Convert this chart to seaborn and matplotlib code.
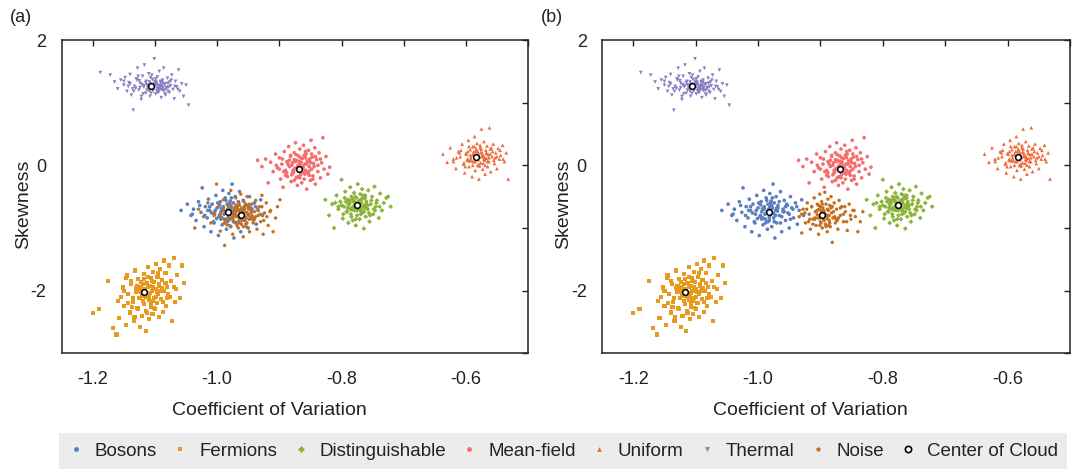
import numpy as np
import pandas as pd
import seaborn as sns
import matplotlib.pyplot as plt
from matplotlib.lines import Line2D
from matplotlib.ticker import MultipleLocator

# cloud points (panels share all clouds except Noise)
bosons_x = [-1.058, -1.048, -1.042, -1.038, -1.034, -1.030, -1.026, -1.024, -1.021, -1.019, -1.016, -1.014,
            -1.012, -1.010, -1.008, -1.006, -1.004, -1.002, -1.000, -0.998, -0.997, -0.995, -0.994, -0.992,
            -0.991, -0.990, -0.988, -0.987, -0.986, -0.985, -0.984, -0.983, -0.982, -0.981, -0.980, -0.979,
            -0.978, -0.977, -0.976, -0.975, -0.974, -0.973, -0.972, -0.971, -0.970, -0.968, -0.966, -0.964,
            -0.962, -0.960, -0.958, -0.956, -0.954, -0.952, -0.950, -0.948, -0.946, -0.943, -0.940, -0.937,
            -0.934, -0.930, -0.927, -0.985, -0.989, -0.979, -0.993, -0.975, -0.996, -0.969, -1.003, -0.981,
            -1.020, -1.012, -1.005, -0.999, -0.994, -0.990, -0.986, -0.982, -0.978, -0.974, -0.970, -0.966,
            -0.962, -0.958, -0.953, -0.948, -0.944, -1.028, -1.015, -1.001, -0.996, -0.988, -0.977, -0.972,
            -0.964, -0.956, -0.950, -1.009, -0.992, -0.980, -0.968, -0.960, -1.040, -0.938, -0.984]
bosons_y = [-0.72, -0.62, -0.80, -0.70, -0.88, -0.58, -0.75, -0.36, -0.98, -0.66, -0.84, -0.54,
            -0.72, -1.06, -0.62, -0.90, -0.78, -0.48, -0.68, -1.12, -0.82, -0.58, -0.74, -0.95,
            -0.40, -0.66, -0.86, -0.52, -0.76, -1.02, -0.62, -0.70, -0.88, -0.45, -0.79, -0.57,
            -0.98, -0.68, -0.30, -0.84, -0.60, -1.16, -0.72, -0.50, -0.92, -0.64, -0.80, -0.42,
            -1.06, -0.70, -0.56, -0.88, -0.62, -0.76, -1.00, -0.50, -0.68, -0.84, -0.60, -0.94,
            -0.72, -0.55, -0.80, -0.74, -0.78, -0.71, -0.69, -0.77, -0.80, -0.73, -0.72, -0.66,
            -0.80, -0.66, -0.92, -0.60, -0.86, -0.70, -0.56, -0.83, -0.64, -0.90, -0.68, -0.58,
            -0.82, -0.74, -0.64, -0.86, -0.70, -0.64, -0.72, -0.85, -0.63, -0.92, -0.52, -0.80,
            -0.92, -0.66, -0.78, -0.76, -0.84, -0.60, -0.68, -0.74, -0.78, -0.66, -0.90]

fermions_x = [-1.200, -1.190, -1.175, -1.168, -1.162, -1.158, -1.155, -1.152, -1.150, -1.147, -1.145, -1.143,
              -1.140, -1.138, -1.136, -1.134, -1.132, -1.130, -1.128, -1.127, -1.125, -1.124, -1.122, -1.121,
              -1.120, -1.118, -1.117, -1.116, -1.115, -1.114, -1.113, -1.112, -1.111, -1.110, -1.109, -1.108,
              -1.107, -1.106, -1.105, -1.104, -1.103, -1.102, -1.101, -1.100, -1.099, -1.098, -1.097, -1.096,
              -1.095, -1.094, -1.093, -1.092, -1.090, -1.089, -1.087, -1.086, -1.085, -1.083, -1.082, -1.080,
              -1.078, -1.076, -1.074, -1.072, -1.070, -1.068, -1.066, -1.064, -1.060, -1.056, -1.053, -1.123,
              -1.119, -1.114, -1.108, -1.126, -1.111, -1.104,
              -1.150, -1.144, -1.139, -1.135, -1.131, -1.127, -1.123, -1.119, -1.115, -1.111, -1.107, -1.103,
              -1.099, -1.095, -1.091, -1.087, -1.083, -1.079, -1.146, -1.137, -1.129, -1.121, -1.113, -1.105,
              -1.097, -1.089, -1.081, -1.133, -1.117, -1.101, -1.125, -1.109, -1.093, -1.160, -1.070]
fermions_y = [-2.36, -2.30, -1.85, -2.60, -2.70, -2.44, -2.10, -1.95, -2.25, -2.55, -1.76, -2.05,
              -2.35, -1.90, -2.18, -2.48, -1.68, -2.02, -2.28, -1.82, -2.12, -2.58, -1.95, -2.40,
              -2.08, -1.74, -2.22, -1.98, -2.65, -2.32, -1.88, -2.05, -1.62, -2.15, -2.45, -1.92,
              -2.26, -1.80, -2.00, -2.38, -1.70, -2.12, -1.86, -2.30, -1.97, -1.58, -2.20, -1.78,
              -2.06, -2.42, -1.90, -1.65, -2.14, -1.83, -2.34, -1.52, -2.00, -1.72, -2.25, -1.94,
              -1.60, -2.10, -1.85, -2.48, -1.48, -2.18, -1.98, -1.75, -2.12, -1.60, -1.88, -2.02,
              -1.90, -2.10, -2.04, -1.96, -1.94, -2.16,
              -2.00, -2.20, -1.84, -2.12, -1.96, -2.30, -1.86, -2.16, -2.04, -1.78, -2.22, -1.94,
              -2.10, -1.72, -2.00, -2.18, -1.88, -2.06, -1.80, -2.26, -1.92, -2.08, -2.36, -1.84,
              -2.02, -1.96, -2.12, -2.42, -1.82, -2.28, -2.00, -2.10, -1.92, -2.16, -1.94]

dist_x = [-0.826, -0.820, -0.815, -0.812, -0.808, -0.805, -0.802, -0.800, -0.798, -0.796, -0.794, -0.792,
          -0.790, -0.789, -0.788, -0.786, -0.785, -0.784, -0.783, -0.782, -0.781, -0.780, -0.779, -0.778,
          -0.777, -0.776, -0.775, -0.774, -0.773, -0.772, -0.771, -0.770, -0.769, -0.768, -0.767, -0.766,
          -0.765, -0.764, -0.763, -0.762, -0.761, -0.760, -0.758, -0.757, -0.755, -0.753, -0.751, -0.749,
          -0.747, -0.745, -0.743, -0.740, -0.738, -0.735, -0.732, -0.728, -0.725, -0.721, -0.776, -0.772,
          -0.779, -0.768, -0.783, -0.765, -0.787, -0.770, -0.760, -0.790,
          -0.800, -0.795, -0.791, -0.787, -0.784, -0.781, -0.778, -0.775, -0.772, -0.769, -0.766, -0.763,
          -0.760, -0.756, -0.752, -0.748, -0.744, -0.805, -0.797, -0.789, -0.782, -0.777, -0.773, -0.768,
          -0.762, -0.754, -0.746, -0.793, -0.779, -0.770, -0.758, -0.786, -0.764, -0.810, -0.739]
dist_y = [-0.55, -0.80, -0.62, -1.00, -0.48, -0.70, -0.58, -0.23, -0.85, -0.66, -0.42, -0.74,
          -0.55, -0.92, -0.63, -0.35, -0.78, -0.50, -0.68, -0.88, -0.58, -0.44, -0.72, -0.62,
          -0.96, -0.52, -0.80, -0.30, -0.66, -0.57, -0.86, -0.46, -0.70, -0.60, -0.38, -0.76,
          -0.53, -1.01, -0.64, -0.48, -0.82, -0.58, -0.70, -0.40, -0.90, -0.62, -0.50, -0.78,
          -0.34, -0.66, -0.56, -0.84, -0.45, -0.72, -0.60, -0.52, -0.50, -0.66, -0.64, -0.70,
          -0.58, -0.54, -0.71, -0.66, -0.60, -0.62, -0.68, -0.68,
          -0.64, -0.52, -0.74, -0.56, -0.82, -0.66, -0.50, -0.72, -0.58, -0.78, -0.48, -0.68,
          -0.62, -0.76, -0.56, -0.70, -0.60, -0.66, -0.78, -0.62, -0.54, -0.86, -0.60, -0.74,
          -0.52, -0.80, -0.72, -0.58, -0.68, -0.56, -0.64, -0.70, -0.74, -0.60, -0.66]

meanfield_x = [-0.935, -0.928, -0.922, -0.918, -0.914, -0.910, -0.906, -0.903, -0.900, -0.898, -0.896, -0.894,
               -0.892, -0.890, -0.888, -0.887, -0.885, -0.884, -0.882, -0.881, -0.879, -0.878, -0.876, -0.875,
               -0.874, -0.873, -0.872, -0.871, -0.870, -0.869, -0.868, -0.867, -0.866, -0.865, -0.864, -0.863,
               -0.862, -0.861, -0.860, -0.859, -0.858, -0.857, -0.856, -0.855, -0.854, -0.853, -0.852, -0.851,
               -0.850, -0.849, -0.848, -0.847, -0.846, -0.845, -0.843, -0.842, -0.840, -0.838, -0.836, -0.834,
               -0.832, -0.830, -0.828, -0.825, -0.822, -0.819, -0.870, -0.866, -0.861, -0.876, -0.858, -0.880,
               -0.852, -0.873,
               -0.900, -0.895, -0.890, -0.886, -0.882, -0.878, -0.874, -0.870, -0.866, -0.862, -0.858, -0.854,
               -0.850, -0.846, -0.842, -0.838, -0.893, -0.884, -0.876, -0.868, -0.860, -0.852, -0.844, -0.880,
               -0.864, -0.856, -0.872, -0.848, -0.888, -0.905, -0.834, -0.867, -0.859, -0.877, -0.851]
meanfield_y = [0.08, -0.02, 0.10, -0.28, 0.05, -0.10, 0.18, -0.04, 0.12, -0.22, 0.02, -0.35,
               0.22, -0.08, 0.06, -0.18, 0.30, -0.02, 0.14, -0.26, 0.04, -0.12, 0.20, -0.05,
               0.36, -0.20, 0.08, -0.32, 0.00, 0.15, -0.10, 0.26, -0.15, 0.05, -0.28, 0.11,
               -0.04, 0.32, -0.22, 0.02, -0.08, 0.18, -0.38, 0.07, -0.13, 0.24, -0.02, 0.10,
               -0.24, 0.40, -0.06, 0.13, -0.17, 0.03, 0.28, -0.30, 0.09, -0.10, 0.20, -0.20,
               0.04, 0.44, -0.06, 0.14, -0.14, -0.03, -0.07, 0.02, -0.12, 0.09, 0.12, -0.15,
               -0.09, 0.17,
               -0.06, 0.10, -0.16, 0.02, 0.16, -0.08, 0.06, -0.18, 0.12, -0.02, 0.22, -0.12,
               0.04, -0.22, 0.14, 0.00, -0.10, 0.08, -0.24, 0.06, 0.16, -0.16, -0.02, 0.00,
               -0.06, 0.02, -0.04, 0.18, -0.12, 0.00, 0.10, -0.20, -0.14, -0.10, 0.06]

uniform_x = [-0.637, -0.630, -0.625, -0.620, -0.616, -0.612, -0.609, -0.606, -0.604, -0.602, -0.600, -0.598,
             -0.596, -0.595, -0.593, -0.592, -0.590, -0.589, -0.588, -0.587, -0.586, -0.585, -0.584, -0.583,
             -0.582, -0.581, -0.580, -0.579, -0.578, -0.577, -0.576, -0.575, -0.574, -0.573, -0.572, -0.571,
             -0.570, -0.569, -0.568, -0.567, -0.566, -0.565, -0.564, -0.563, -0.562, -0.561, -0.560, -0.558,
             -0.556, -0.554, -0.552, -0.550, -0.548, -0.546, -0.544, -0.541, -0.538, -0.535, -0.532, -0.585,
             -0.580, -0.576, -0.589, -0.572, -0.594, -0.567, -0.583, -0.578, -0.597, -0.570,
             -0.615, -0.608, -0.603, -0.599, -0.595, -0.591, -0.587, -0.583, -0.579, -0.575, -0.571, -0.567,
             -0.563, -0.559, -0.555, -0.550, -0.545, -0.610, -0.601, -0.593, -0.585, -0.577, -0.569, -0.561,
             -0.553, -0.597, -0.581, -0.573, -0.589, -0.565, -0.557, -0.620, -0.540, -0.586, -0.574]
uniform_y = [0.18, 0.05, 0.28, 0.10, -0.05, 0.22, 0.14, 0.34, 0.02, -0.12, 0.19, 0.08,
             0.40, -0.02, 0.25, 0.12, -0.18, 0.30, 0.06, 0.16, 0.46, -0.08, 0.22, 0.10,
             0.35, 0.00, 0.18, -0.22, 0.13, 0.28, 0.04, 0.58, 0.20, -0.06, 0.15, 0.38,
             0.08, -0.14, 0.24, 0.11, 0.31, -0.02, 0.17, 0.06, 0.60, 0.26, -0.10, 0.14,
             0.34, 0.03, 0.20, -0.05, 0.27, 0.10, 0.16, 0.32, 0.06, 0.20, -0.22, 0.14,
             0.09, 0.21, 0.18, 0.03, 0.07, 0.19, 0.26, -0.01, 0.22, 0.13,
             0.12, 0.24, 0.04, 0.18, 0.30, 0.08, 0.22, 0.14, 0.02, 0.26, 0.10, 0.20,
             0.12, 0.28, 0.08, 0.14, 0.24, 0.20, -0.02, 0.16, 0.06, 0.32, 0.00, 0.18,
             0.12, 0.10, 0.22, 0.14, 0.00, 0.06, 0.22, 0.06, 0.10, 0.30, 0.16]

thermal_x = [-1.188, -1.172, -1.165, -1.160, -1.155, -1.150, -1.148, -1.145, -1.142, -1.140, -1.138, -1.135,
             -1.133, -1.130, -1.128, -1.126, -1.124, -1.122, -1.120, -1.118, -1.117, -1.115, -1.114, -1.112,
             -1.111, -1.110, -1.108, -1.107, -1.105, -1.104, -1.103, -1.101, -1.100, -1.099, -1.098, -1.097,
             -1.096, -1.095, -1.094, -1.093, -1.092, -1.091, -1.090, -1.089, -1.088, -1.087, -1.086, -1.085,
             -1.083, -1.082, -1.080, -1.079, -1.077, -1.075, -1.073, -1.071, -1.069, -1.067, -1.065, -1.062,
             -1.060, -1.057, -1.054, -1.050, -1.046, -1.109, -1.113, -1.121, -1.131, -1.143, -1.102, -1.097,
             -1.094, -1.090, -1.084, -1.078, -1.125, -1.106, -1.099, -1.088,
             -1.140, -1.134, -1.129, -1.124, -1.119, -1.115, -1.111, -1.107, -1.103, -1.099, -1.095, -1.091,
             -1.087, -1.083, -1.079, -1.074, -1.068, -1.136, -1.127, -1.118, -1.109, -1.100, -1.092, -1.084,
             -1.076, -1.122, -1.105, -1.089, -1.113, -1.097, -1.081, -1.150, -1.063, -1.101, -1.093]
thermal_y = [1.48, 1.44, 1.33, 1.22, 1.36, 1.28, 1.40, 1.18, 1.32, 1.45, 1.12, 0.88,
             1.26, 1.38, 1.55, 1.20, 1.31, 1.05, 1.42, 1.25, 1.60, 1.15, 1.34, 1.28,
             1.22, 1.46, 1.10, 1.30, 1.24, 1.37, 1.19, 1.70, 1.29, 1.14, 1.33, 1.23,
             1.41, 1.27, 1.17, 1.50, 1.21, 1.32, 1.08, 1.26, 1.36, 1.19, 1.55, 1.29,
             1.12, 1.24, 1.39, 1.31, 1.16, 1.27, 1.44, 1.21, 1.06, 1.34, 1.25, 1.52,
             1.18, 1.30, 1.10, 1.28, 0.96, 1.33, 1.20, 1.29, 1.23, 1.26, 1.26, 1.30,
             1.22, 1.28, 1.20, 1.25, 1.35, 1.15, 1.38, 1.32,
             1.30, 1.18, 1.36, 1.24, 1.14, 1.32, 1.26, 1.40, 1.20, 1.28, 1.16, 1.34,
             1.24, 1.30, 1.18, 1.36, 1.26, 1.22, 1.42, 1.27, 1.18, 1.34, 1.25, 1.14,
             1.33, 1.10, 1.44, 1.21, 1.28, 1.19, 1.23, 1.34, 1.21, 1.31, 1.27]

noise_a_x = [-1.036, -1.030, -1.022, -1.015, -1.010, -1.005, -1.001, -0.998, -0.995, -0.993, -0.990, -0.988,
             -0.986, -0.984, -0.982, -0.980, -0.978, -0.976, -0.975, -0.973, -0.972, -0.970, -0.969, -0.967,
             -0.966, -0.965, -0.964, -0.963, -0.962, -0.961, -0.960, -0.959, -0.958, -0.957, -0.956, -0.955,
             -0.954, -0.953, -0.952, -0.951, -0.950, -0.948, -0.946, -0.944, -0.942, -0.940, -0.938, -0.936,
             -0.934, -0.932, -0.930, -0.928, -0.926, -0.924, -0.921, -0.918, -0.914, -0.910, -0.906, -0.903,
             -0.899, -0.960, -0.966, -0.957, -0.971, -0.953, -0.963, -0.949, -0.975, -0.945,
             -0.995, -0.988, -0.982, -0.977, -0.972, -0.968, -0.964, -0.960, -0.956, -0.952, -0.948, -0.944,
             -0.940, -0.935, -0.930, -0.925, -0.920, -0.990, -0.980, -0.970, -0.962, -0.954, -0.946, -0.938,
             -0.928, -0.985, -0.966, -0.950, -0.975, -0.958, -0.942, -1.005, -0.915, -0.968, -0.955]
noise_a_y = [-1.00, -0.70, -0.82, -0.60, -0.92, -0.76, -0.30, -0.66, -1.05, -0.84, -0.55, -1.28,
             -0.74, -0.95, -0.62, -0.86, -0.40, -0.78, -1.10, -0.68, -0.90, -0.52, -0.82, -0.72,
             -1.00, -0.60, -0.86, -0.76, -0.46, -0.94, -0.68, -0.80, -1.14, -0.58, -0.74, -0.88,
             -0.64, -0.98, -0.50, -0.78, -0.70, -1.06, -0.84, -0.62, -0.92, -0.74, -0.56, -1.02,
             -0.80, -0.66, -0.90, -0.48, -1.10, -0.76, -0.60, -0.96, -0.72, -1.06, -0.84, -0.66,
             -0.55, -0.79, -0.82, -0.76, -0.77, -0.84, -0.72, -0.80, -0.86, -0.75,
             -0.78, -0.92, -0.66, -0.84, -0.72, -0.96, -0.64, -0.88, -0.70, -0.92, -0.62, -0.80,
             -0.86, -0.70, -0.78, -0.88, -0.82, -0.72, -0.96, -0.64, -0.70, -0.94, -0.72, -0.82,
             -0.66, -0.86, -0.90, -0.66, -0.74, -0.98, -0.88, -0.80, -0.74, -0.68, -0.82]

noise_b_x = [-0.934, -0.930, -0.928, -0.924, -0.921, -0.918, -0.916, -0.914, -0.912, -0.910, -0.908, -0.907,
             -0.905, -0.904, -0.903, -0.902, -0.901, -0.900, -0.899, -0.898, -0.897, -0.896, -0.895, -0.894,
             -0.893, -0.892, -0.891, -0.890, -0.889, -0.888, -0.887, -0.886, -0.885, -0.884, -0.883, -0.882,
             -0.881, -0.880, -0.878, -0.876, -0.874, -0.872, -0.870, -0.868, -0.866, -0.863, -0.860, -0.857,
             -0.854, -0.851, -0.848, -0.844, -0.840, -0.836, -0.832, -0.897, -0.901, -0.893, -0.905, -0.889,
             -0.899, -0.886, -0.909, -0.894,
             -0.925, -0.919, -0.914, -0.909, -0.905, -0.901, -0.897, -0.893, -0.889, -0.885, -0.881, -0.877,
             -0.873, -0.868, -0.863, -0.858, -0.852, -0.922, -0.912, -0.903, -0.895, -0.887, -0.879, -0.871,
             -0.861, -0.917, -0.899, -0.883, -0.907, -0.891, -0.875, -0.930, -0.846, -0.900, -0.888]
noise_b_y = [-0.82, -1.08, -0.70, -0.92, -0.60, -0.78, -1.02, -0.66, -0.86, -0.52, -0.74, -0.96,
             -0.62, -0.84, -1.10, -0.70, -0.46, -0.90, -0.78, -0.58, -1.00, -0.68, -0.86, -0.74,
             -0.43, -0.94, -0.62, -0.80, -1.06, -0.54, -0.72, -0.88, -0.64, -0.98, -0.50, -0.76,
             -1.23, -0.84, -0.60, -0.92, -0.70, -1.02, -0.56, -0.80, -0.66, -0.90, -0.74, -1.04,
             -0.62, -0.86, -0.72, -0.82, -1.06, -0.90, -0.74, -0.81, -0.84, -0.77, -0.79, -0.85,
             -0.73, -0.80, -0.86, -0.88,
             -0.76, -0.90, -0.66, -0.84, -0.72, -0.96, -0.62, -0.80, -0.70, -0.92, -0.66, -0.82,
             -0.88, -0.68, -0.78, -0.90, -0.80, -0.70, -0.94, -0.64, -0.72, -0.96, -0.74, -0.84,
             -0.66, -0.86, -0.92, -0.68, -0.74, -0.98, -0.86, -0.78, -0.72, -0.66, -0.80]

# centres of the clouds
kinds = ['Bosons', 'Fermions', 'Distinguishable', 'Mean-field', 'Uniform', 'Thermal', 'Noise']
center_x_a = [-0.983, -1.117, -0.775, -0.868, -0.583, -1.106, -0.962]
center_y_a = [-0.751, -2.024, -0.639, -0.059, 0.128, 1.262, -0.794]
center_x_b = [-0.983, -1.117, -0.775, -0.868, -0.583, -1.106, -0.898]
center_y_b = [-0.751, -2.024, -0.639, -0.059, 0.128, 1.262, -0.800]

colors = {'Bosons': '#5b80c0', 'Fermions': '#e69b1e', 'Distinguishable': '#8cb43a',
          'Mean-field': '#f66d6d', 'Uniform': '#ee6a3a', 'Thermal': '#8c7dc2', 'Noise': '#c46e1e'}
markers = {'Bosons': 'o', 'Fermions': 's', 'Distinguishable': 'D', 'Mean-field': 'o',
           'Uniform': '^', 'Thermal': 'v', 'Noise': 'p'}
sizes = {'Bosons': 7, 'Fermions': 9, 'Distinguishable': 6, 'Mean-field': 7,
         'Uniform': 7, 'Thermal': 7, 'Noise': 8}


def cloud_frame(noise_x, noise_y):
    parts = [(bosons_x, bosons_y, 'Bosons'), (fermions_x, fermions_y, 'Fermions'),
             (dist_x, dist_y, 'Distinguishable'), (meanfield_x, meanfield_y, 'Mean-field'),
             (uniform_x, uniform_y, 'Uniform'), (thermal_x, thermal_y, 'Thermal'),
             (noise_x, noise_y, 'Noise')]
    return pd.concat([pd.DataFrame({'x': px, 'y': py, 'kind': k}) for px, py, k in parts],
                     ignore_index=True)


sns.set_style('white')
plt.rcParams['font.family'] = ['Liberation Sans', 'DejaVu Sans']

fig = plt.figure(figsize=(10.77, 4.71), dpi=100)
ax_a = fig.add_axes([0.0573, 0.25, 0.4330, 0.665])
ax_b = fig.add_axes([0.5590, 0.25, 0.4345, 0.665])

panels = [(ax_a, noise_a_x, noise_a_y, center_x_a, center_y_a, '(a)', 0.009),
          (ax_b, noise_b_x, noise_b_y, center_x_b, center_y_b, '(b)', 0.502)]

for ax, nx, ny, cx, cy, tag, tx in panels:
    df = cloud_frame(nx, ny)
    sns.scatterplot(data=df, x='x', y='y', hue='kind', style='kind', size='kind',
                    palette=colors, markers=markers, sizes=sizes, linewidth=0,
                    legend=False, ax=ax)
    sns.scatterplot(x=cx, y=cy, marker='o', s=17, color='white', edgecolor='black',
                    linewidth=1.1, legend=False, ax=ax, zorder=5)
    ax.set_xlim(-1.25, -0.5)
    ax.set_ylim(-3, 2)
    ax.xaxis.set_minor_locator(MultipleLocator(0.1))
    ax.yaxis.set_minor_locator(MultipleLocator(1))
    ax.set_xticks([-1.2, -1.0, -0.8, -0.6])
    ax.set_xticklabels(['-1.2', '-1.0', '-0.8', '-0.6'])
    ax.set_yticks([2, 0, -2])
    ax.set_yticklabels(['2', '0', '-2'])
    ax.tick_params(which='both', direction='in', top=True, right=True, length=4.5,
                   width=1, color='#222222', labelsize=13, labelcolor='#222222')
    ax.tick_params(axis='x', which='both', pad=13)
    ax.tick_params(axis='y', which='both', pad=11)
    for sp in ax.spines.values():
        sp.set_linewidth(1.1)
        sp.set_color('#222222')
    ax.set_xlabel('Coefficient of Variation', fontsize=14, color='#222222')
    ax.set_ylabel('Skewness', fontsize=14, color='#222222')
    ax.xaxis.set_label_coords(0.446, -0.155)
    ax.yaxis.set_label_coords(-0.063, 0.475)
    fig.text(tx, 0.962, tag, fontsize=13, color='#222222', va='center')

handles = [Line2D([], [], linestyle='none', marker=markers[k], markersize=3.5,
                  markerfacecolor=colors[k], markeredgewidth=0, label=k) for k in kinds]
handles.append(Line2D([], [], linestyle='none', marker='o', markersize=4.5,
                      markerfacecolor='white', markeredgecolor='black', markeredgewidth=1.2,
                      label='Center of Cloud'))

leg = fig.legend(handles=handles, loc='center', ncol=8, mode='expand',
                 bbox_to_anchor=(0.0548, 0.0, 0.936, 0.085), frameon=True, fancybox=False,
                 fontsize=13.5, handlelength=0.8, handletextpad=0.6, borderaxespad=0,
                 borderpad=0.5, columnspacing=1.0)
leg.get_frame().set_facecolor('#e8e8e8')
leg.get_frame().set_edgecolor('none')
for t in leg.get_texts():
    t.set_color('#222222')

fig.savefig('out.png', dpi=100)
